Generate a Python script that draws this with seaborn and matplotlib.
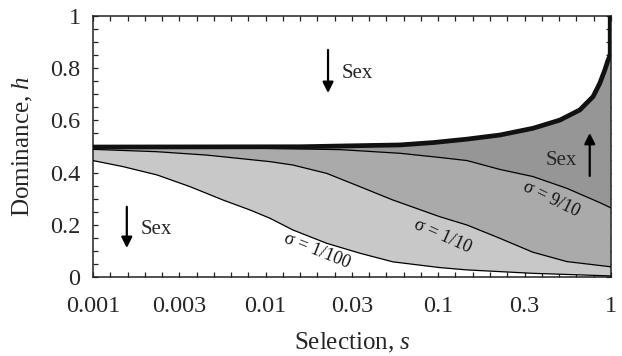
import numpy as np
import matplotlib
matplotlib.use("Agg")
import matplotlib.pyplot as plt
from matplotlib.ticker import NullFormatter
import seaborn as sns

# ---- data ----
# thick boundary (sigma -> 0 limit)
s_bound = [0.001, 0.0158, 0.060, 0.0935, 0.146, 0.228, 0.355, 0.506, 0.661,
           0.789, 0.863, 0.923, 0.964, 0.985, 0.992, 0.992]
h_bound = [0.498, 0.499, 0.506, 0.515, 0.528, 0.544, 0.570, 0.601, 0.640,
           0.691, 0.742, 0.793, 0.831, 0.845, 0.86, 1.0]

# sigma = 9/10
s_910 = [0.001, 0.0042, 0.0093, 0.027, 0.060, 0.102, 0.147, 0.228, 0.353,
         0.555, 0.863, 1.0]
h_910 = [0.495, 0.494, 0.493, 0.488, 0.474, 0.458, 0.446, 0.412, 0.385,
         0.340, 0.285, 0.265]

# sigma = 1/10
s_110 = [0.001, 0.00235, 0.00457, 0.0106, 0.0144, 0.0226, 0.0352, 0.0546,
         0.102, 0.147, 0.228, 0.353, 0.556, 1.0]
h_110 = [0.489, 0.480, 0.467, 0.442, 0.429, 0.397, 0.346, 0.295,
         0.231, 0.199, 0.148, 0.095, 0.059, 0.039]

# sigma = 1/100
s_1100 = [0.001, 0.00149, 0.00235, 0.00365, 0.00566, 0.0081, 0.0106, 0.0144,
          0.0226, 0.0352, 0.0546, 0.102, 0.147, 0.353, 1.0]
h_1100 = [0.446, 0.423, 0.391, 0.346, 0.295, 0.257, 0.225, 0.180,
          0.129, 0.091, 0.058, 0.036, 0.027, 0.014, 0.004]

xtick_vals = [0.001, 10**-2.5, 0.01, 10**-1.5, 0.1, 10**-0.5, 1.0]
xtick_labels = ["0.001", "0.003", "0.01", "0.03", "0.1", "0.3", "1"]
ytick_vals = [0, 0.2, 0.4, 0.6, 0.8, 1.0]
ytick_labels = ["0", "0.2", "0.4", "0.6", "0.8", "1"]

# ---- style ----
sns.set_theme(style="ticks")
plt.rcParams["font.family"] = ["Liberation Serif", "DejaVu Serif"]
plt.rcParams["mathtext.fontset"] = "custom"
plt.rcParams["mathtext.rm"] = "Liberation Serif"
plt.rcParams["mathtext.it"] = "Liberation Serif:italic"

fig = plt.figure(figsize=(6.22, 3.56), dpi=100)
ax = fig.add_axes([0.1495, 0.222, 0.8325, 0.733])

c_dark = "#969696"
c_mid = "#aaaaaa"
c_light = "#c8c8c8"

# filled regions
ax.fill(np.concatenate([s_bound[:-2] + [1.0], s_910[::-1]]),
        np.concatenate([h_bound[:-2] + [0.86], h_910[::-1]]), color=c_dark, lw=0, zorder=1)
ax.fill(np.concatenate([s_910, s_110[::-1]]),
        np.concatenate([h_910, h_110[::-1]]), color=c_mid, lw=0, zorder=1)
ax.fill(np.concatenate([s_110, s_1100[::-1]]),
        np.concatenate([h_110, h_1100[::-1]]), color=c_light, lw=0, zorder=1)

for sx, hy in [(s_910, h_910), (s_110, h_110), (s_1100, h_1100)]:
    sns.lineplot(x=sx, y=hy, ax=ax, color="black", lw=0.9, sort=False,
                 estimator=None, zorder=3)
sns.lineplot(x=s_bound, y=h_bound, ax=ax, color="#111111", lw=3.4, sort=False,
             estimator=None, zorder=4)

ax.set_xscale("log")
ax.set_xlim(0.001, 1.0)
ax.set_ylim(0, 1)

ax.set_xticks(xtick_vals)
ax.set_xticklabels(xtick_labels)
ax.set_xticks([10 ** (-3 + 0.1 * k) for k in range(31)], minor=True)
ax.xaxis.set_minor_formatter(NullFormatter())
ax.set_yticks(ytick_vals)
ax.set_yticklabels(ytick_labels)
ax.set_yticks(np.arange(0, 1.001, 0.05), minor=True)
ax.yaxis.set_minor_formatter(NullFormatter())

ax.tick_params(which="both", direction="in", top=True, right=True,
               length=3.5, width=0.9, color="#222222")
ax.tick_params(axis="x", which="major", labelsize=17.5, pad=14)
ax.tick_params(axis="y", which="major", labelsize=17.5, pad=9)
for sp in ax.spines.values():
    sp.set_linewidth(1.1)
    sp.set_color("#222222")
    sp.set_visible(True)

ax.set_xlabel("Selection, $s$", fontsize=18, labelpad=10)
ax.set_ylabel("Dominance, $h$", fontsize=18, labelpad=11)

# curve labels
lab_kw = dict(fontsize=13, ha="center", va="center", color="#111111", zorder=5)
ax.text(0.0198, 0.10, "σ = 1/100", rotation=-22, **lab_kw)
ax.text(0.106, 0.157, "σ = 1/10", rotation=-24, **lab_kw)
ax.text(0.449, 0.299, "σ = 9/10", rotation=-26, **lab_kw)

# arrows with "Sex"
arr = dict(arrowstyle="-|>", color="black", lw=1.6, mutation_scale=16,
           shrinkA=0, shrinkB=0)
ax.annotate("", xy=(0.0230, 0.705), xytext=(0.0230, 0.870), arrowprops=arr, zorder=6)
ax.text(0.0277, 0.778, "Sex", fontsize=15, ha="left", va="center")
ax.annotate("", xy=(0.755, 0.552), xytext=(0.755, 0.387), arrowprops=arr, zorder=6)
ax.text(0.520, 0.448, "Sex", fontsize=15, ha="center", va="center", zorder=6)
ax.annotate("", xy=(0.00157, 0.111), xytext=(0.00157, 0.269), arrowprops=arr, zorder=6)
ax.text(0.0019, 0.18, "Sex", fontsize=15, ha="left", va="center")

fig.savefig("out.png", dpi=100)
